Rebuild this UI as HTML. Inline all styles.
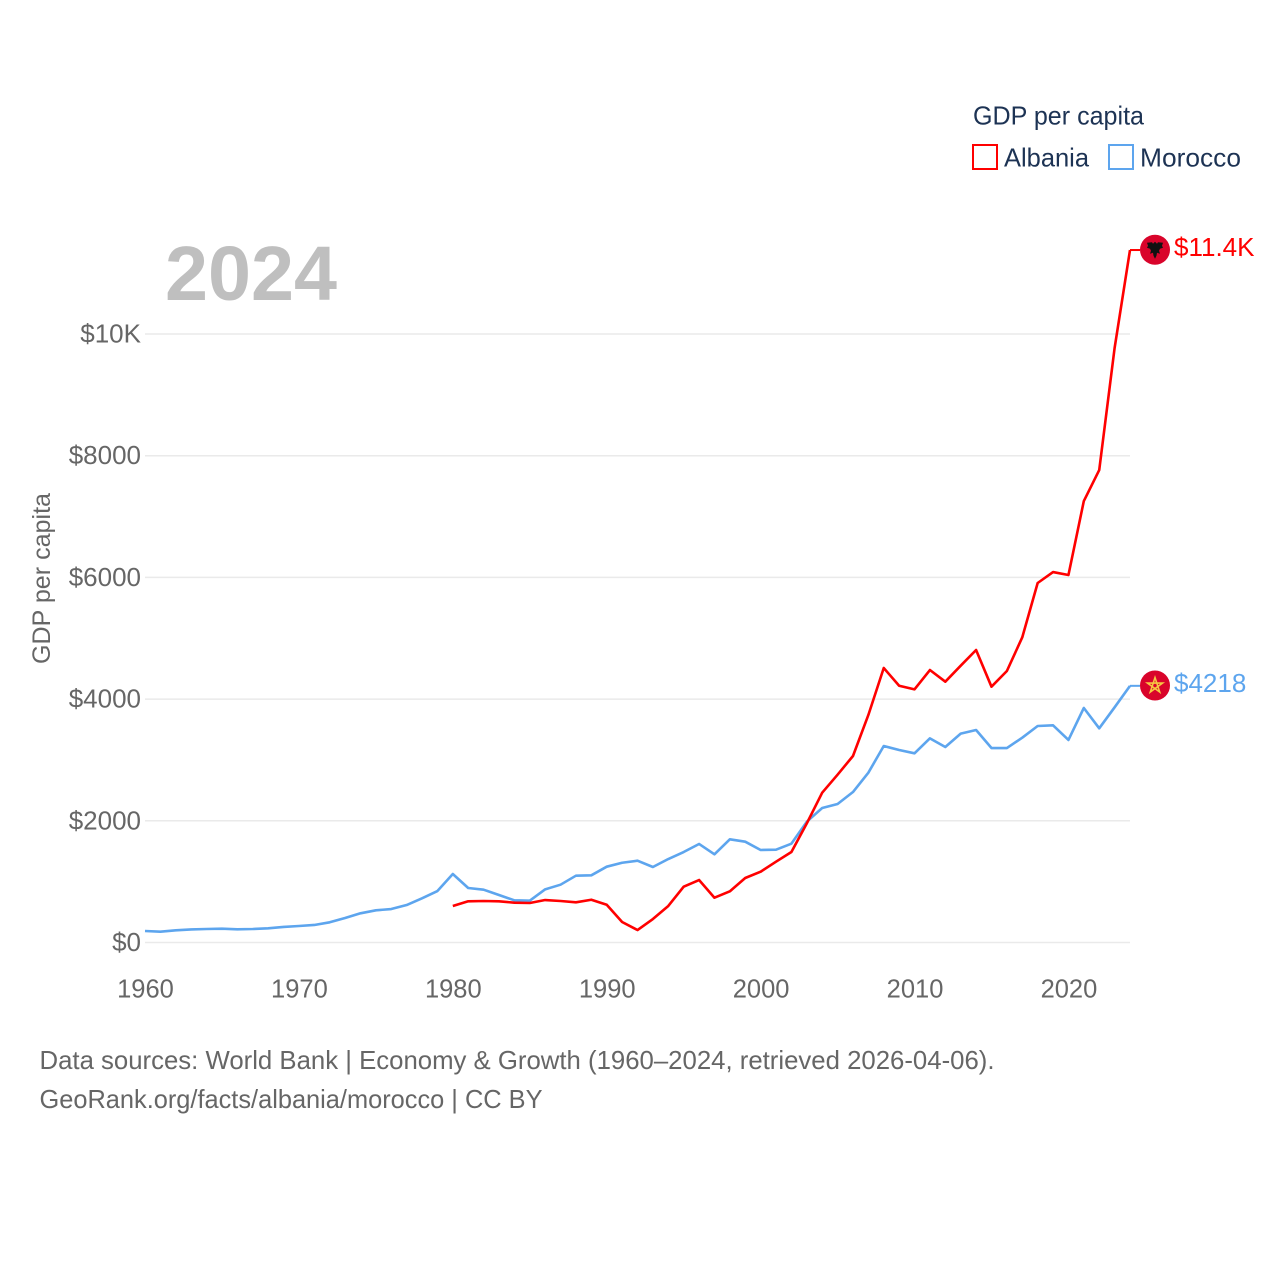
<!DOCTYPE html>
<html lang="en">
<head>
<meta charset="utf-8">
<title>GDP per capita: Albania and Morocco</title>
<style>
html,body{margin:0;padding:0;background:#fff;}
svg{display:block;}
text{font-family:"Liberation Sans",sans-serif;}
</style>
</head>
<body>
<svg id="chart" xmlns="http://www.w3.org/2000/svg" width="1280" height="1280" viewBox="0 0 1280 1280">
  <rect x="0" y="0" width="1280" height="1280" fill="#ffffff"/>
  <g id="grid"></g>
  <g id="yticks"></g>
  <g id="xticks"></g>
  <text x="165" y="300" font-size="77" font-weight="700" fill="#bfbfbf" textLength="172" lengthAdjust="spacingAndGlyphs">2024</text>
  <text transform="translate(50,578.5) rotate(-90)" text-anchor="middle" font-size="25" fill="#666666" textLength="171" lengthAdjust="spacingAndGlyphs">GDP per capita</text>
  <g id="series"></g>
  <g id="endpoints"></g>
  <g>
    <text x="973" y="124.5" font-size="26" fill="#1d3354" textLength="171" lengthAdjust="spacingAndGlyphs">GDP per capita</text>
    <rect x="973" y="145" width="24" height="24" fill="none" stroke="#ff0000" stroke-width="2"/>
    <text x="1004" y="166.5" font-size="26" fill="#1d3354" textLength="85" lengthAdjust="spacingAndGlyphs">Albania</text>
    <rect x="1109" y="145" width="24" height="24" fill="none" stroke="#5da5ee" stroke-width="2"/>
    <text x="1140" y="166.5" font-size="26" fill="#1d3354" textLength="101" lengthAdjust="spacingAndGlyphs">Morocco</text>
  </g>
  <g>
    <text x="39.5" y="1069" font-size="26" fill="#666666" textLength="955" lengthAdjust="spacingAndGlyphs">Data sources: World Bank | Economy &amp; Growth (1960–2024, retrieved 2026-04-06).</text>
    <text x="39.5" y="1108" font-size="26" fill="#666666" textLength="503" lengthAdjust="spacingAndGlyphs">GeoRank.org/facts/albania/morocco | CC BY</text>
  </g>
</svg>
<script>
const years = [1960,1961,1962,1963,1964,1965,1966,1967,1968,1969,1970,1971,1972,1973,1974,1975,1976,1977,1978,1979,1980,1981,1982,1983,1984,1985,1986,1987,1988,1989,1990,1991,1992,1993,1994,1995,1996,1997,1998,1999,2000,2001,2002,2003,2004,2005,2006,2007,2008,2009,2010,2011,2012,2013,2014,2015,2016,2017,2018,2019,2020,2021,2022,2023,2024];
const albaniaValues = [null,null,null,null,null,null,null,null,null,null,null,null,null,null,null,null,null,null,null,null,600,677,682,677,654,649,698,682,660,703,621,337,205,386,600,917,1027,736,841,1060,1163,1328,1487,1958,2462,2758,3065,3739,4511,4220,4160,4478,4286,4549,4807,4204,4462,5015,5908,6088,6039,7255,7764,9770,11380];
const moroccoValues = [189,178,200,215,222,227,217,222,233,255,271,288,332,403,480,529,550,616,726,846,1126,896,868,780,693,687,874,950,1098,1104,1246,1311,1344,1241,1372,1487,1619,1449,1696,1657,1520,1525,1624,1985,2210,2276,2473,2791,3229,3164,3109,3355,3213,3432,3492,3196,3196,3366,3558,3569,3328,3854,3520,3865,4218];
const yTickValues = [0,2000,4000,6000,8000,10000];
const yTickLabels = ["$0","$2000","$4000","$6000","$8000","$10K"];
const xTickValues = [1960,1970,1980,1990,2000,2010,2020];
const xTickLabels = ["1960","1970","1980","1990","2000","2010","2020"];
const albaniaLabel = "$11.4K";
const moroccoLabel = "$4218";

const NS = "http://www.w3.org/2000/svg";
const PLOT = {left:145, right:1130, top:334, bottom:942.5};
const X_MIN = 1960, X_MAX = 2024, Y_MAX = 10000;
function xScale(v){ return PLOT.left + (v - X_MIN) / (X_MAX - X_MIN) * (PLOT.right - PLOT.left); }
function yScale(v){ return PLOT.bottom - v / Y_MAX * (PLOT.bottom - PLOT.top); }
function make(tag, parent){
  const el = document.createElementNS(NS, tag);
  parent.appendChild(el);
  return el;
}
function linePath(values){
  let d = "", on = false;
  values.forEach(function(v, i){
    if (v === null) { on = false; return; }
    d += (on ? "L" : "M") + xScale(years[i]).toFixed(2) + " " + yScale(v).toFixed(2);
    on = true;
  });
  return d;
}

const gridGroup = document.getElementById("grid");
const yGroup = document.getElementById("yticks");
yTickValues.forEach(function(v, i){
  const gl = make("line", gridGroup);
  
  
  gl.setAttribute("x1", PLOT.left);
  gl.setAttribute("x2", PLOT.right);
  gl.setAttribute("y1", yScale(v));
  gl.setAttribute("y2", yScale(v));
  gl.setAttribute("stroke", "#eaeaea");
  gl.setAttribute("stroke-width", "1.5");
  const t = make("text", yGroup);
  
  
  t.setAttribute("x", 141);
  t.setAttribute("y", yScale(v) + 8.5);
  t.setAttribute("text-anchor", "end");
  t.setAttribute("font-size", "26");
  t.setAttribute("fill", "#666666");
  t.textContent = yTickLabels[i];
});

const xGroup = document.getElementById("xticks");
xTickValues.forEach(function(v, i){
  const t = make("text", xGroup);
  
  
  t.setAttribute("x", xScale(v) + 0.5);
  t.setAttribute("y", 997.5);
  t.setAttribute("text-anchor", "middle");
  t.setAttribute("font-size", "25.5");
  t.setAttribute("fill", "#666666");
  t.textContent = xTickLabels[i];
});

const seriesGroup = document.getElementById("series");
const endGroup = document.getElementById("endpoints");
const MARK_X = 1155;

function drawSeries(values, color){
  const p = make("path", seriesGroup);
  
  
  p.setAttribute("d", linePath(values));
  p.setAttribute("fill", "none");
  p.setAttribute("stroke", color);
  p.setAttribute("stroke-width", "2.6");
  p.setAttribute("stroke-linejoin", "round");
  const last = values[values.length - 1];
  const c = make("line", seriesGroup);
  
  
  c.setAttribute("x1", xScale(years[years.length - 1]));
  c.setAttribute("x2", MARK_X - 15);
  c.setAttribute("y1", yScale(last));
  c.setAttribute("y2", yScale(last));
  c.setAttribute("stroke", color);
  c.setAttribute("stroke-width", "2");
}

function drawEnd(values, color, label, symbol, symbolFill, symbolStroke){
  const yy = yScale(values[values.length - 1]);
  const circle = make("circle", endGroup);
  
  
  circle.setAttribute("cx", MARK_X);
  circle.setAttribute("cy", yy - 0.3);
  circle.setAttribute("r", 15);
  circle.setAttribute("fill", "#d9042b");
  const s = make("path", endGroup);
  
  
  s.setAttribute("transform", "translate(" + MARK_X + "," + (yy - 0.3) + ")");
  s.setAttribute("d", symbol);
  s.setAttribute("fill", symbolFill);
  if (symbolStroke) {
    s.setAttribute("stroke", symbolStroke);
    s.setAttribute("stroke-width", "1.6");
    s.setAttribute("stroke-linejoin", "miter");
  }
  const t = make("text", endGroup);
  
  
  t.setAttribute("x", 1174);
  t.setAttribute("y", yy + 6);
  t.setAttribute("font-size", "26");
  t.setAttribute("fill", color);
  t.textContent = label;
}

const EAGLE = "M0 -8 L2 -6 L3 -7.5 L8 -7 L7 -4 L8 -2 L5 -1 L4 1 L5 4 L2 3 L1.5 6 L0 9 L-1.5 6 L-2 3 L-5 4 L-4 1 L-5 -1 L-8 -2 L-7 -4 L-8 -7 L-3 -7.5 L-2 -6 Z";
const STAR = "M0 -8 L4.7 6.5 L-7.6 -2.5 L7.6 -2.5 L-4.7 6.5 Z";

drawSeries(moroccoValues, "#5da5ee");
drawSeries(albaniaValues, "#ff0000");
drawEnd(albaniaValues, "#ff0000", albaniaLabel, EAGLE, "#111111", null);
drawEnd(moroccoValues, "#5da5ee", moroccoLabel, STAR, "none", "#f5c842");
</script>
</body>
</html>
